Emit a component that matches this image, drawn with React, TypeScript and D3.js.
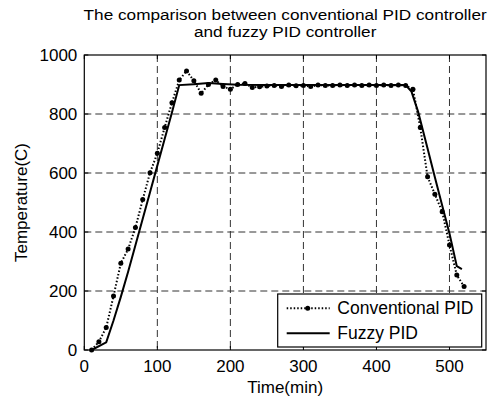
import { useEffect, useRef } from 'react';
import * as d3 from 'd3';

// Conventional PID (dotted line with markers)
const convTime = [10, 20, 30, 40, 50, 60, 70, 80, 90, 100, 110, 120, 130, 140, 150, 160, 170, 180, 190, 200,
    210, 220, 230, 240, 250, 260, 270, 280, 290, 300, 310, 320, 330, 340, 350, 360, 370, 380, 390, 400,
    410, 420, 430, 440, 450, 460, 470, 480, 490, 500, 510, 520];
const convTemp = [0, 28, 76, 183, 294, 342, 415, 510, 601, 667, 754, 838, 915, 946, 913, 870, 900, 915, 893, 884,
    900, 903, 890, 892, 895, 897, 893, 898, 896, 897, 893, 898, 897, 897, 898, 897, 898, 897, 898, 897,
    898, 897, 898, 897, 884, 754, 587, 528, 469, 356, 254, 215];

// Fuzzy PID (solid line)
const fuzzyTime = [10, 30, 40, 50, 60, 70, 80, 90, 100, 110, 120, 130, 150, 170, 190, 210, 250, 300, 350, 400,
    440, 448, 457, 470, 480, 490, 500, 510, 517];
const fuzzyTemp = [0, 26, 100, 180, 265, 355, 445, 535, 625, 715, 805, 898, 901, 905, 902, 899, 898, 898, 898, 898,
    898, 876, 808, 683, 586, 490, 395, 284, 274];

const xTicks = [0, 100, 200, 300, 400, 500];
const yTicks = [0, 200, 400, 600, 800, 1000];
const titleLines = ['The comparison between conventional PID controller', 'and fuzzy PID controller'];
const legendLabels = ['Conventional PID', 'Fuzzy PID'];

export default function App() {
    const svgRef = useRef<SVGSVGElement>(null);

    useEffect(() => {
        if (!svgRef.current) return;
        const svg = d3.select(svgRef.current);
        svg.selectAll('*').remove();

        const W = 497, H = 398;
        const margin = { top: 55, right: 11, bottom: 48, left: 84.3 };
        const width = W - margin.left - margin.right;
        const height = H - margin.top - margin.bottom;
        const font = 'Liberation Sans, Arial, sans-serif';

        svg.attr('width', W).attr('height', H).style('background', '#fff');

        const x = d3.scaleLinear().domain([0, 550]).range([0, width]);
        const y = d3.scaleLinear().domain([0, 1000]).range([height, 0]);

        const g = svg.append('g').attr('transform', `translate(${margin.left},${margin.top})`);

        // Grid
        g.selectAll('.vgrid').data(xTicks.filter(d => d > 0)).enter().append('line')
            .attr('x1', d => x(d)).attr('x2', d => x(d)).attr('y1', 0).attr('y2', height)
            .attr('stroke', '#333').attr('stroke-width', 1).attr('stroke-dasharray', '7,4');
        g.selectAll('.hgrid').data(yTicks.filter(d => d > 0 && d < 1000)).enter().append('line')
            .attr('x1', 0).attr('x2', width).attr('y1', d => y(d)).attr('y2', d => y(d))
            .attr('stroke', '#333').attr('stroke-width', 1).attr('stroke-dasharray', '7,4');

        // Lines
        const conv = convTime.map((t, i) => [t, convTemp[i]] as [number, number]);
        const fuzzy = fuzzyTime.map((t, i) => [t, fuzzyTemp[i]] as [number, number]);
        const line = d3.line<[number, number]>().x(d => x(d[0])).y(d => y(d[1]));

        g.append('path').datum(fuzzy).attr('d', line)
            .attr('fill', 'none').attr('stroke', '#000').attr('stroke-width', 2);

        g.append('path').datum(conv).attr('d', line)
            .attr('fill', 'none').attr('stroke', '#000').attr('stroke-width', 2)
            .attr('stroke-dasharray', '1.5,2');
        g.selectAll('.dot').data(conv).enter().append('circle')
            .attr('cx', d => x(d[0])).attr('cy', d => y(d[1])).attr('r', 2.5).attr('fill', '#000');

        // Box
        g.append('rect').attr('width', width).attr('height', height)
            .attr('fill', 'none').attr('stroke', '#000').attr('stroke-width', 1.2);

        // Ticks (inside, all sides)
        const tl = 4;
        xTicks.forEach(t => {
            g.append('line').attr('x1', x(t)).attr('x2', x(t)).attr('y1', height).attr('y2', height - tl).attr('stroke', '#000');
            g.append('line').attr('x1', x(t)).attr('x2', x(t)).attr('y1', 0).attr('y2', tl).attr('stroke', '#000');
        });
        yTicks.forEach(t => {
            g.append('line').attr('x1', 0).attr('x2', tl).attr('y1', y(t)).attr('y2', y(t)).attr('stroke', '#000');
            g.append('line').attr('x1', width).attr('x2', width - tl).attr('y1', y(t)).attr('y2', y(t)).attr('stroke', '#000');
        });

        // Tick labels
        g.selectAll('.xl').data(xTicks).enter().append('text')
            .attr('x', d => x(d)).attr('y', height + 22).attr('text-anchor', 'middle')
            .attr('font-family', font).attr('font-size', 17).text(d => d);
        g.selectAll('.yl').data(yTicks).enter().append('text')
            .attr('x', -7).attr('y', d => y(d) + 6).attr('text-anchor', 'end')
            .attr('font-family', font).attr('font-size', 17).text(d => d);

        // Axis titles
        g.append('text').attr('x', width / 2).attr('y', height + 43).attr('text-anchor', 'middle')
            .attr('font-family', font).attr('font-size', 17).text('Time(min)');
        g.append('text').attr('transform', `translate(-57,${height / 2}) rotate(-90)`).attr('text-anchor', 'middle')
            .attr('font-family', font).attr('font-size', 17).text('Temperature(C)');

        // Title (slightly widened, as in the source)
        titleLines.forEach((t, i) => {
            g.append('text')
                .attr('transform', `translate(${width / 2},${-35 + i * 16.5}) scale(1.17,1)`)
                .attr('text-anchor', 'middle')
                .attr('font-family', font).attr('font-size', 14.7).text(t);
        });

        // Legend
        const lg = svg.append('g').attr('transform', 'translate(277.7,294)');
        lg.append('rect').attr('width', 204).attr('height', 53)
            .attr('fill', '#fff').attr('stroke', '#000').attr('stroke-width', 1.2);
        lg.append('line').attr('x1', 9).attr('x2', 52).attr('y1', 14.3).attr('y2', 14.3)
            .attr('stroke', '#000').attr('stroke-width', 2).attr('stroke-dasharray', '1.5,2');
        lg.append('circle').attr('cx', 30).attr('cy', 14.3).attr('r', 2.5).attr('fill', '#000');
        lg.append('line').attr('x1', 9).attr('x2', 52).attr('y1', 39.3).attr('y2', 39.3)
            .attr('stroke', '#000').attr('stroke-width', 2);
        legendLabels.forEach((l, i) => {
            lg.append('text').attr('x', 59.6).attr('y', 14.3 + i * 25 + 6).attr('font-family', font)
                .attr('font-size', 17.5).text(l);
        });
    }, []);

    return (
        <svg ref={svgRef} style={{ position: 'absolute', left: 0, top: 0 }} />
    );
}
